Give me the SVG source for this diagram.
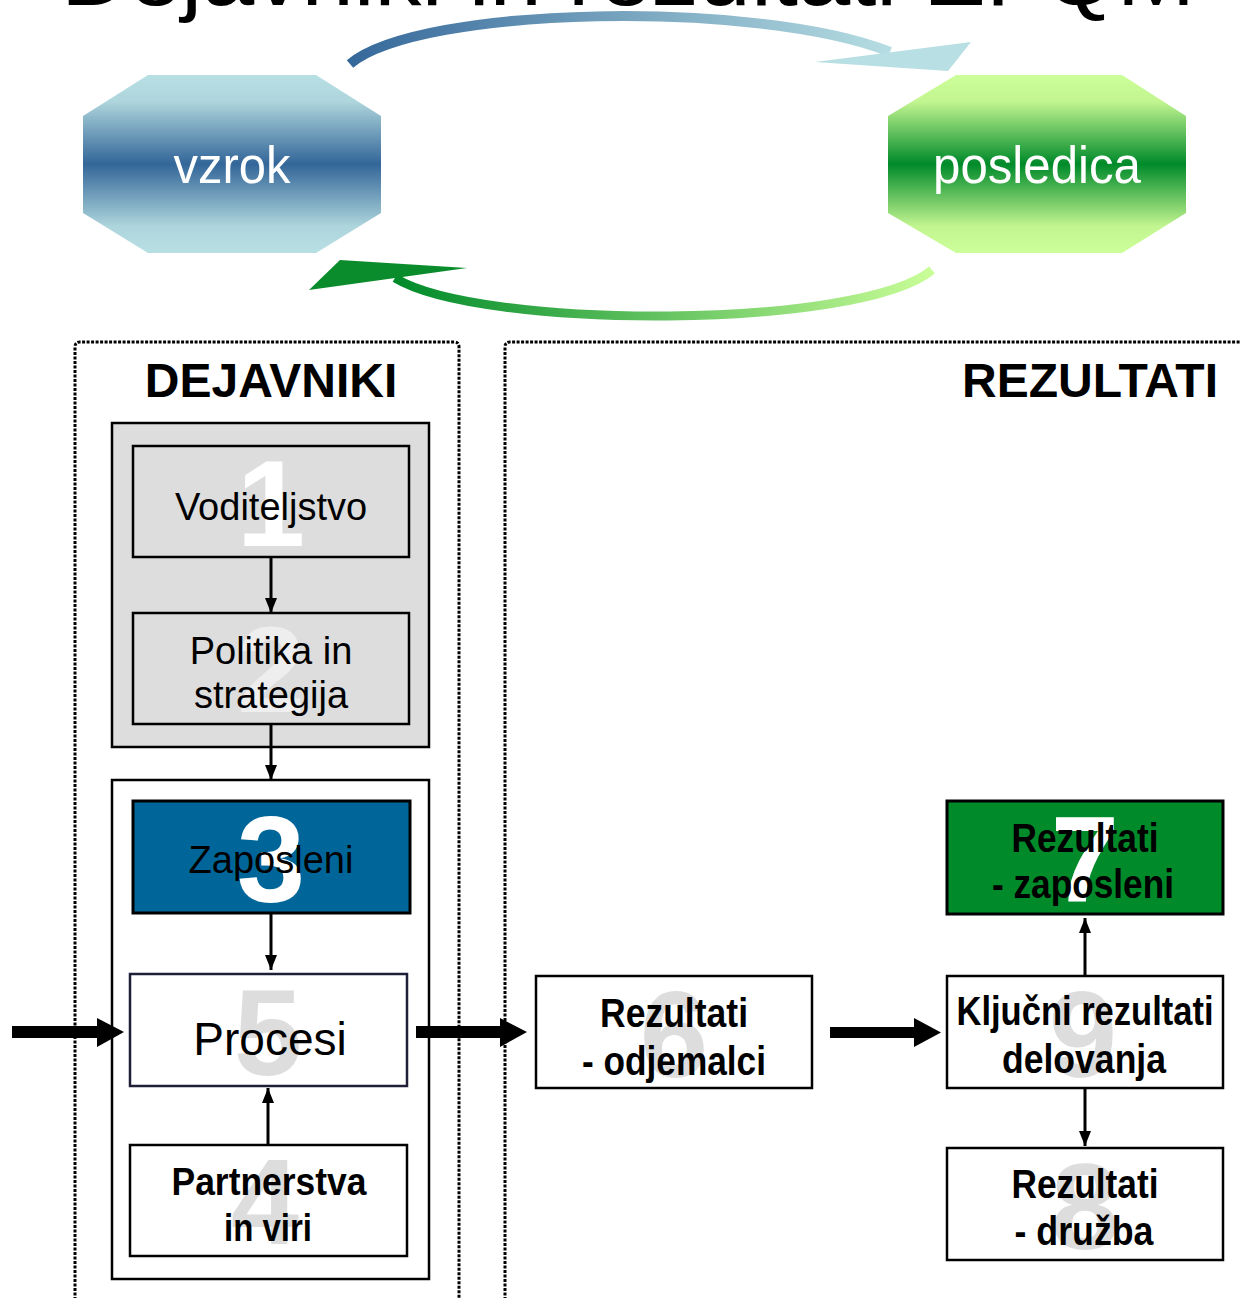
<svg xmlns="http://www.w3.org/2000/svg" width="1240" height="1298" viewBox="0 0 1240 1298">
<defs>
<style>
.reg{font-family:"Liberation Sans",Arial,sans-serif;font-size:38px;fill:#000;text-anchor:middle}
.bld{font-family:"Liberation Sans",Arial,sans-serif;font-size:40px;font-weight:bold;fill:#000;text-anchor:middle}
.num{font-family:"Liberation Sans",Arial,sans-serif;font-size:123px;font-weight:bold;text-anchor:middle}
.head{font-family:"Liberation Sans",Arial,sans-serif;font-size:48px;font-weight:bold;fill:#000;text-anchor:middle}
.oct{font-family:"Liberation Sans",Arial,sans-serif;font-size:52px;fill:#fff;text-anchor:middle}
.box{stroke:#000;stroke-width:2.5}
.frame{fill:none;stroke:#000;stroke-width:3;stroke-dasharray:3 1.5}
.thin{stroke:#000;stroke-width:3;fill:none;marker-end:url(#ah)}
</style>
<marker id="ah" viewBox="0 0 15 12" refX="15" refY="6" markerWidth="15" markerHeight="12" markerUnits="userSpaceOnUse" orient="auto">
<path d="M0,0 L15,6 L0,12 Z" fill="#000"/>
</marker>
<linearGradient id="gBlue" x1="0" y1="0" x2="0" y2="1">
<stop offset="0" stop-color="#b8dfe3"/>
<stop offset="0.15" stop-color="#aed5dc"/>
<stop offset="0.5" stop-color="#336699"/>
<stop offset="0.85" stop-color="#aed5dc"/>
<stop offset="1" stop-color="#b8dfe3"/>
</linearGradient>
<linearGradient id="gGreen" x1="0" y1="0" x2="0" y2="1">
<stop offset="0" stop-color="#ccff99"/>
<stop offset="0.15" stop-color="#c2f590"/>
<stop offset="0.5" stop-color="#008a2a"/>
<stop offset="0.85" stop-color="#c2f590"/>
<stop offset="1" stop-color="#ccff99"/>
</linearGradient>
<linearGradient id="gTop" gradientUnits="userSpaceOnUse" x1="340" y1="0" x2="900" y2="0">
<stop offset="0" stop-color="#336699"/>
<stop offset="1" stop-color="#b8dfe3"/>
</linearGradient>
<linearGradient id="gBot" gradientUnits="userSpaceOnUse" x1="395" y1="0" x2="940" y2="0">
<stop offset="0" stop-color="#008a2a"/>
<stop offset="1" stop-color="#ccff99"/>
</linearGradient>
</defs>
<rect width="1240" height="1298" fill="#fff"/>

<g id="title">
<text x="61" y="5" font-family="Liberation Sans, Arial, sans-serif" font-size="88" textLength="1134" lengthAdjust="spacingAndGlyphs">Dejavniki in rezultati EFQM</text>
</g>

<g id="vzrok">
<polygon points="148,75 316,75 381,116 381,213 316,253 148,253 83,213 83,116" fill="url(#gBlue)"/>
<text class="oct" x="232" y="183" textLength="117" lengthAdjust="spacingAndGlyphs">vzrok</text>
</g>
<g id="posledica">
<polygon points="956,75 1122,75 1186,116 1186,213 1122,253 956,253 888,213 888,116" fill="url(#gGreen)"/>
<text class="oct" x="1037" y="183" textLength="208" lengthAdjust="spacingAndGlyphs">posledica</text>
</g>

<g id="frames">
<path class="frame" d="M75,1300 V347 Q75,342 80,342 H454 Q459,342 459,347 V1300"/>
<path class="frame" d="M505,1300 V347 Q505,342 510,342 H1245"/>
<text class="head" x="271" y="397">DEJAVNIKI</text>
<text class="head" x="1090" y="397">REZULTATI</text>
</g>

<g id="container-top">
<rect class="box" x="112" y="423" width="317" height="324" fill="#dddddd"/>
</g>
<g id="container-bottom">
<rect class="box" x="112" y="780" width="317" height="499" fill="#fff"/>
</g>

<g id="n1">
<rect class="box" x="133" y="446" width="276" height="111" fill="#dddddd"/>
<text class="num" x="271" y="546" fill="#fff">1</text>
<text class="reg" x="271" y="520">Voditeljstvo</text>
</g>
<g id="n2">
<rect class="box" x="133" y="613" width="276" height="111" fill="#dddddd"/>
<text class="num" x="271" y="712" fill="#eeeeee">2</text>
<text class="reg" x="271" y="664">Politika in</text>
<text class="reg" x="271" y="708">strategija</text>
</g>
<g id="n3">
<rect x="133" y="801" width="277" height="112" fill="#006699" stroke="#000" stroke-width="3"/>
<text class="num" x="271" y="902" fill="#fff">3</text>
<text class="reg" x="271" y="873">Zaposleni</text>
</g>
<g id="n5">
<rect x="130" y="974" width="277" height="112" fill="#fff" stroke="#1f1f3a" stroke-width="2.5"/>
<text class="num" x="268" y="1075" fill="#dddddd">5</text>
<text class="reg" x="270" y="1055" style="font-size:46px">Procesi</text>
</g>
<g id="n4">
<rect class="box" x="130" y="1145" width="277" height="111" fill="#fff"/>
<text class="num" x="265" y="1244" fill="#dddddd">4</text>
<text class="bld" x="269" y="1195" style="font-size:38px" textLength="195" lengthAdjust="spacingAndGlyphs">Partnerstva</text>
<text class="bld" x="268" y="1241" style="font-size:38px" textLength="88" lengthAdjust="spacingAndGlyphs">in viri</text>
</g>
<g id="n6">
<rect class="box" x="536" y="976" width="276" height="112" fill="#fff"/>
<text class="num" x="674" y="1077" fill="#dddddd">6</text>
<text class="bld" x="674" y="1027" textLength="148" lengthAdjust="spacingAndGlyphs">Rezultati</text>
<text class="bld" x="674" y="1075" textLength="184" lengthAdjust="spacingAndGlyphs">- odjemalci</text>
</g>
<g id="n9">
<rect class="box" x="947" y="976" width="276" height="112" fill="#fff"/>
<text class="num" x="1083" y="1077" fill="#dddddd">9</text>
<text class="bld" x="1085" y="1025" textLength="257" lengthAdjust="spacingAndGlyphs">Ključni rezultati</text>
<text class="bld" x="1084" y="1073" textLength="164" lengthAdjust="spacingAndGlyphs">delovanja</text>
</g>
<g id="n7">
<rect x="947" y="801" width="276" height="113" fill="#008a2a" stroke="#000" stroke-width="3"/>
<text class="num" x="1085" y="902" fill="#fff">7</text>
<text class="bld" x="1085" y="852" textLength="147" lengthAdjust="spacingAndGlyphs">Rezultati</text>
<text class="bld" x="1083" y="898" textLength="182" lengthAdjust="spacingAndGlyphs">- zaposleni</text>
</g>
<g id="n8">
<rect class="box" x="947" y="1148" width="276" height="112" fill="#fff"/>
<text class="num" x="1085" y="1249" fill="#dddddd">8</text>
<text class="bld" x="1085" y="1198" textLength="147" lengthAdjust="spacingAndGlyphs">Rezultati</text>
<text class="bld" x="1084" y="1245" textLength="139" lengthAdjust="spacingAndGlyphs">- družba</text>
</g>

<g id="connectors">
<path d="M350,64 C420,5 760,0 890,52" fill="none" stroke="url(#gTop)" stroke-width="10"/>
<polygon points="815,62 971,42 948,71" fill="#b8dfe3"/>
<path d="M932,270 C860,330 480,330 395,278" fill="none" stroke="url(#gBot)" stroke-width="9"/>
<polygon points="309,290 467,268 340,260" fill="#0b8c2c"/>
<line class="thin" x1="271" y1="557" x2="271" y2="613"/>
<line class="thin" x1="271" y1="724" x2="271" y2="780"/>
<line class="thin" x1="271" y1="913" x2="271" y2="970"/>
<line class="thin" x1="268" y1="1145" x2="268" y2="1088"/>
<line class="thin" x1="1085" y1="976" x2="1085" y2="918"/>
<line class="thin" x1="1085" y1="1088" x2="1085" y2="1146"/>
<polygon points="12,1026 97,1026 97,1018 124,1032 97,1047 97,1038 12,1038" fill="#000"/>
<polygon points="416,1026 500,1026 500,1018 527,1032 500,1047 500,1038 416,1038" fill="#000"/>
<polygon points="830,1027 914,1027 914,1018 941,1032.5 914,1047 914,1038 830,1038" fill="#000"/>
</g>
</svg>
